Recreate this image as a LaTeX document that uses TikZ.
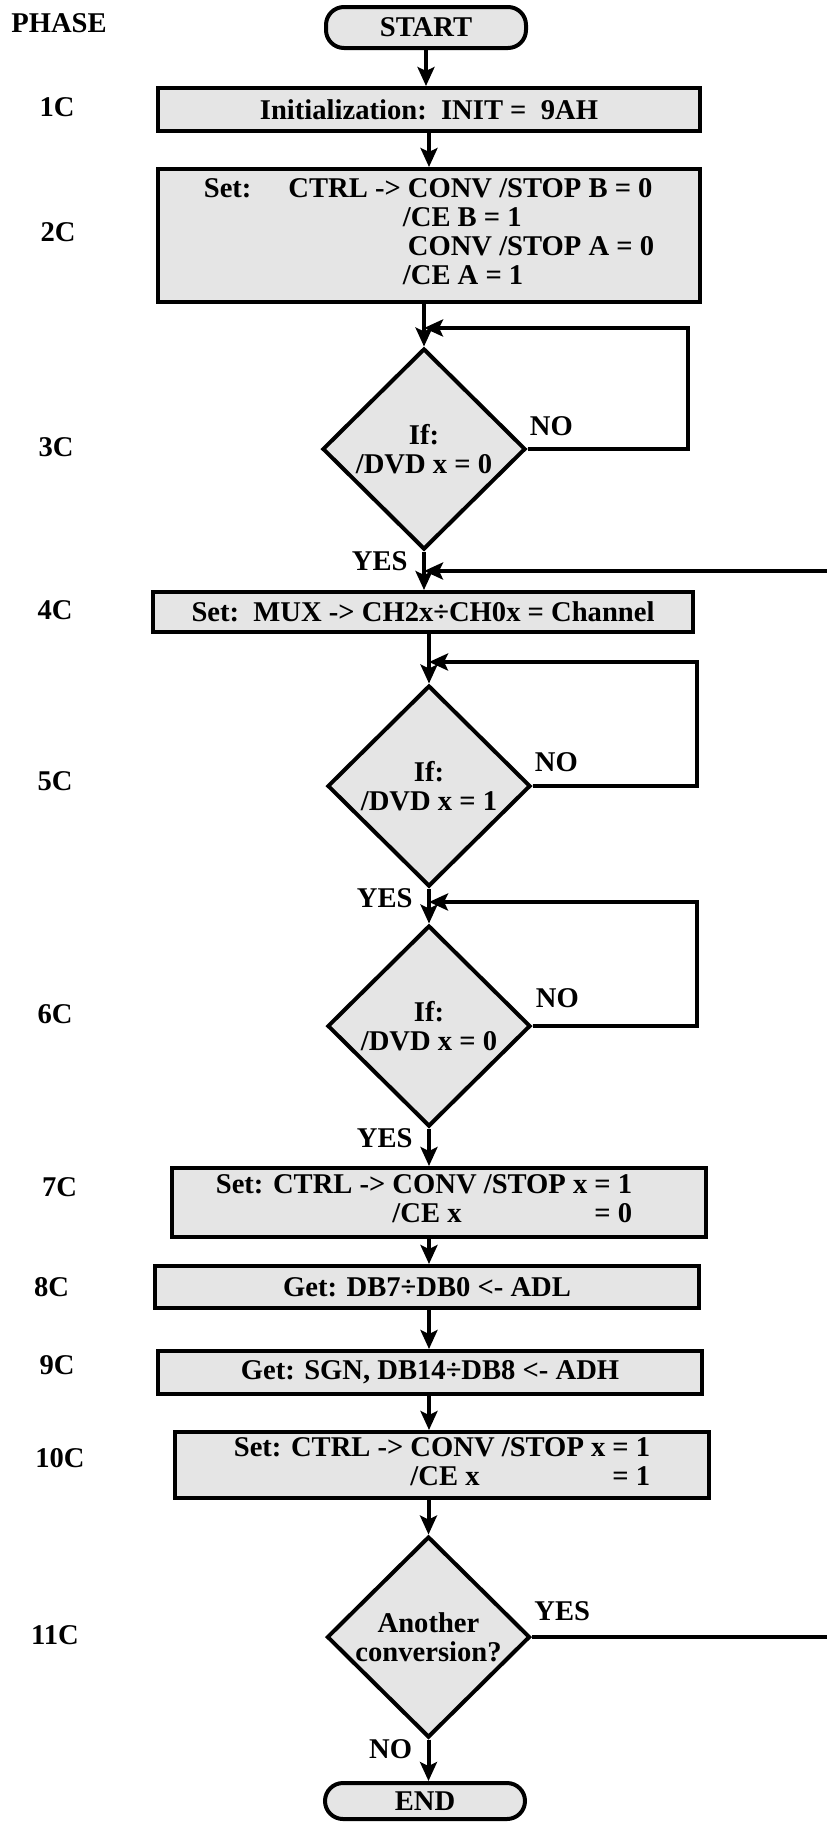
\documentclass[tikz,border=0pt]{standalone}
\usepackage{fontspec}
\setmainfont{Liberation Serif}
\usetikzlibrary{arrows.meta,positioning,shapes.geometric}

\begin{document}
\begin{tikzpicture}[x=0.5pt,y=-0.5pt,
  font=\fontsize{14.3}{14.5}\selectfont\bfseries,
  box/.style={draw, line width=2pt, fill=gray!20, inner sep=0pt},
  term/.style={box, rounded corners=9pt, minimum width=100pt, minimum height=20.5pt},
  cond/.style={draw, line width=2pt, fill=gray!20, diamond, aspect=1, inner sep=0pt,
    minimum width=101.5pt, minimum height=100.5pt, align=center},
  flow/.style={line width=2pt, -{Stealth[length=9.5pt, width=8.5pt, inset=2pt]}},
  tag/.style={inner sep=0pt},
  phase/.style={inner sep=0pt}]
  \useasboundingbox (0,0) rectangle (826,1822);
  \coordinate (axis) at (429,0);

  % phase column
  \node[phase] (ph)   at (59,23)    {PHASE};
  \node[phase] (ph1)  at (57,107)   {1C};
  \node[phase] (ph2)  at (58,232)   {2C};
  \node[phase] (ph3)  at (56,447)   {3C};
  \node[phase] (ph4)  at (55,610)   {4C};
  \node[phase] (ph5)  at (55,781)   {5C};
  \node[phase] (ph6)  at (55,1014)  {6C};
  \node[phase] (ph7)  at (59.5,1187){7C};
  \node[phase] (ph8)  at (51.5,1287){8C};
  \node[phase] (ph9)  at (57,1365)  {9C};
  \node[phase] (ph10) at (60,1458)  {10C};
  \node[phase] (ph11) at (55,1635)  {11C};

  % setup
  \node[term] (start) at (426,27.5) {START};
  \node[box, minimum width=271pt, minimum height=21.5pt] (b1) at (429,109.5)
    {Initialization:\ \ INIT =\ \ 9AH};
  \node[box, minimum width=271pt, minimum height=66.5pt] (b2) at (429,235.5)
    {\begin{tabular}{@{}l@{\hspace{18.5pt}}l@{\hspace{3.5pt}}l@{}}
      Set: & CTRL -> & CONV /STOP B = 0\\
           &         & \hspace{-2.5pt}/CE B = 1\\
           &         & CONV /STOP A = 0\\
           &         & \hspace{-2.5pt}/CE A = 1
     \end{tabular}};

  % wait for /DVD, select channel
  \node[cond] (d3) at (424,449) {If:\\/DVD x = 0};
  \coordinate (c3) at (688,328);
  \coordinate (j3) at (424,328);
  \node[box, minimum width=270pt, minimum height=20pt] (b4) at (423,612)
    {Set:\ \ MUX -> CH2x÷CH0x = Channel};
  \coordinate (j4) at (424,571);
  \node[cond] (d5) at (429,786) {If:\\/DVD x = 1};
  \coordinate (c5) at (697,662);
  \coordinate (j5) at (429,662);
  \node[cond] (d6) at (429,1026) {If:\\/DVD x = 0};
  \coordinate (c6) at (697,902);
  \coordinate (j6) at (429,902);

  % read result
  \node[box, minimum width=267pt, minimum height=34.5pt] (b7) at (439,1202.5)
    {\begin{tabular}{@{}l@{\hspace{3.5pt}}l@{\hspace{3.5pt}}l@{\hspace{15pt}}}
      Set: CTRL -> & CONV /STOP x & = 1\\
                   & /CE x        & = 0
     \end{tabular}};
  \node[box, minimum width=272pt, minimum height=21pt] (b8) at (427,1287)
    {Get: DB7÷DB0 <- ADL};
  \node[box, minimum width=272pt, minimum height=21.5pt] (b9) at (430,1372.5)
    {Get: SGN, DB14÷DB8 <- ADH};
  \node[box, minimum width=267pt, minimum height=33pt] (b10) at (442,1465)
    {\begin{tabular}{@{}l@{\hspace{3.5pt}}l@{\hspace{3.5pt}}l@{}}
      Set: CTRL -> & CONV /STOP x & = 1\\
                   & /CE x        & = 1
     \end{tabular}};
  \node[cond] (d11) at (428.5,1637) {Another\\conversion?};
  \coordinate (r11) at (850,571);
  \node[term, minimum height=18pt] (end) at (425,1801) {END};

  % branch labels
  \node[tag, above right=6.5pt and 1pt of d3.east] (no3) {NO};
  \node[tag, below left=0pt and 8pt of d3.south] (yes3) {YES};
  \node[tag, above right=7pt and 1pt of d5.east] (no5) {NO};
  \node[tag, below left=0pt and 8pt of d5.south] (yes5) {YES};
  \node[tag, above right=9pt and 1.5pt of d6.east] (no6) {NO};
  \node[tag, below left=0pt and 8pt of d6.south] (yes6) {YES};
  \node[tag, above right=8pt and 1pt of d11.east] (yes11) {YES};
  \node[tag, below left=0pt and 8pt of d11.south] (no11) {NO};

  \draw[flow] (start.south) -- (start.south |- b1.north);
  \draw[flow] (b1.south -| axis) -- (b2.north -| axis);
  \draw[flow] (d3.north |- b2.south) -- (d3.north);
  \draw[flow] (d3.east) -| (c3) -- (j3);
  \draw[flow] (d3.south) -- (d3.south |- b4.north);
  \draw[flow] (d11.east) -| (r11) -- (j4);
  \draw[flow] (d5.north |- b4.south) -- (d5.north);
  \draw[flow] (d5.east) -| (c5) -- (j5);
  \draw[flow] (d5.south) -- (d6.north);
  \draw[flow] (d6.east) -| (c6) -- (j6);
  \draw[flow] (d6.south) -- (d6.south |- b7.north);
  \draw[flow] (b7.south -| axis) -- (b8.north -| axis);
  \draw[flow] (b8.south -| axis) -- (b9.north -| axis);
  \draw[flow] (b9.south -| axis) -- (b10.north -| axis);
  \draw[flow] (d11.north |- b10.south) -- (d11.north);
  \draw[flow] (d11.south) -- (d11.south |- end.north);
\end{tikzpicture}
\end{document}
